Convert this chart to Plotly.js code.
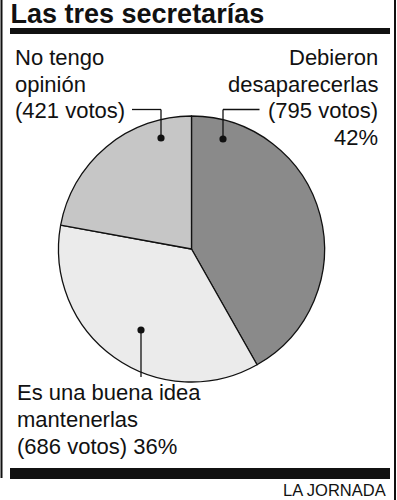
<!DOCTYPE html>
<html>
<head>
<meta charset="utf-8">
<script src="https://cdn.plot.ly/plotly-3.0.1.min.js"></script>
<style>html,body{margin:0;padding:0;background:#fff;}#chart{width:397px;height:500px;}</style>
</head>
<body>
<div id="chart"></div>
<script>
// ---- data ----
const titleText = "Las tres secretarías";
const sourceText = "LA JORNADA";
const categories = ["Debieron desaparecerlas", "Es una buena idea mantenerlas", "No tengo opinión"];
const votes = [795, 686, 421];
const percents = [42, 36, 22];
const sliceColors = ["#8a8a8a", "#ebebeb", "#c6c6c6"];

// ---- helpers (pixel -> paper) ----
const W = 397, H = 500;
const px = x => x / W;
const py = y => 1 - y / H;
const FONT = "Liberation Sans, Arial, Helvetica, sans-serif";
const FS = 22;

// label line layouts (text built from data arrays)
const labelLines = [
  {lines: ["Debieron", "desaparecerlas", `(${votes[0]} votos)`, `${percents[0]}%`], x: 379, anchor: "right", baseline0: 65},
  {lines: ["Es una buena idea", "mantenerlas", `(${votes[1]} votos) ${percents[1]}%`], x: 16, anchor: "left", baseline0: 400.5},
  {lines: ["No tengo", "opinión", `(${votes[2]} votos)`], x: 13.5, anchor: "left", baseline0: 65}
];
const LH = 26.7;

const annotations = [];
labelLines.forEach(l => {
  l.lines.forEach((t, i) => {
    const base = l.baseline0 + i * LH;
    annotations.push({
      text: t, xref: "paper", yref: "paper", x: px(l.x), y: py(base - 0.35 * FS),
      xanchor: l.anchor, yanchor: "middle", showarrow: false, borderpad: 0,
      font: {family: FONT, size: FS, color: "#111"}
    });
  });
});
annotations.push({
  text: sourceText, xref: "paper", yref: "paper", x: px(387), y: py(496 - 0.35 * 16.5),
  xanchor: "right", yanchor: "middle", showarrow: false, borderpad: 0,
  font: {family: FONT, size: 16.5, color: "#111"}
});

const shapes = [];
const line = (x0, y0, x1, y1, w) => shapes.push({type: "line", xref: "paper", yref: "paper",
  x0: px(x0), y0: py(y0), x1: px(x1), y1: py(y1), line: {color: "#111", width: w || 1.3}});
const dot = (x, y, r) => shapes.push({type: "circle", xref: "paper", yref: "paper",
  x0: px(x - r), x1: px(x + r), y0: py(y + r), y1: py(y - r), fillcolor: "#111", line: {width: 0}});
const rect = (x0, y0, x1, y1) => shapes.push({type: "rect", xref: "paper", yref: "paper",
  x0: px(x0), x1: px(x1), y0: py(y1), y1: py(y0), fillcolor: "#111", line: {width: 0}});

// frame
line(1.5, 0, 1.5, 478, 2);
line(395, 0, 395, 500, 2);
rect(10, 28, 390, 34);
rect(10, 468, 390, 479);
// leaders
line(132, 109.5, 161, 109.5); line(161, 109.5, 161, 138);
dot(161, 138, 3.6);
line(259.5, 109.5, 223, 109.5); line(223, 109.5, 223, 139);
dot(223, 139, 3.6);
line(141, 330, 141, 377);
dot(141, 330, 3.6);

// pie geometry
const cx = 191.5, cy = 249, R = 133;

const data = [{
  type: "pie",
  labels: categories,
  values: votes,
  sort: false,
  direction: "clockwise",
  rotation: 0,
  marker: {colors: sliceColors, line: {color: "#111", width: 1.3}},
  textinfo: "none",
  hoverinfo: "none",
  showlegend: false,
  domain: {x: [px(cx - R), px(cx + R)], y: [py(cy + R), py(cy - R)]}
}];

const layout = {
  width: W, height: H,
  margin: {l: 0, r: 0, t: 0, b: 0},
  paper_bgcolor: "#fff",
  showlegend: false,
  title: {
    text: titleText, x: px(10.5), xanchor: "left", xref: "paper",
    y: py(22.5 - 0.35 * 27), yref: "container", yanchor: "middle",
    font: {family: FONT, size: 27, color: "#111", weight: "bold"}
  },
  annotations: annotations,
  shapes: shapes
};

Plotly.newPlot("chart", data, layout, {displayModeBar: false, staticPlot: true});
</script>
</body>
</html>
